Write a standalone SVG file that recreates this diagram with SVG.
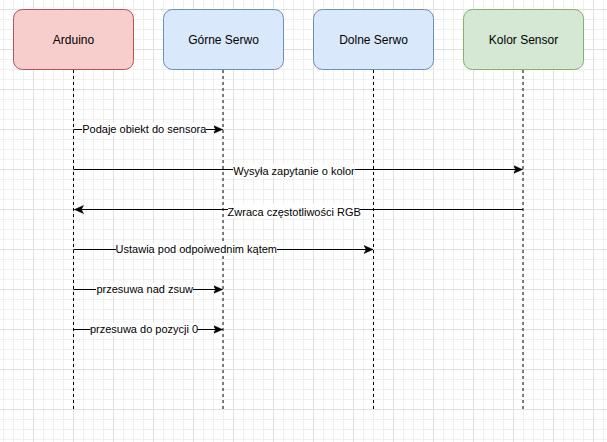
<svg xmlns="http://www.w3.org/2000/svg" width="607" height="442" viewBox="0 0 607 442">
<style>
.box{stroke-width:1}
.title{font-family:"Liberation Sans",Arial,sans-serif;font-size:12px;fill:#000;text-anchor:middle}
.lbl{font-family:"Liberation Sans",Arial,sans-serif;font-size:11px;fill:#000;text-anchor:middle}
.life{stroke:#000;stroke-width:1;stroke-dasharray:3 3;fill:none}
.msg{stroke:#000;stroke-width:1;fill:none}
.bg{fill:#fff}
</style>
<defs>
<pattern id="grid" patternUnits="userSpaceOnUse" x="33" y="9" width="40" height="40">
<path d="M10.5,0V40M20.5,0V40M30.5,0V40M0,10.5H40M0,20.5H40M0,30.5H40" stroke="#f0f0f0" stroke-width="1" fill="none"/>
<path d="M0.5,0V40M0,0.5H40" stroke="#e0e0e0" stroke-width="1" fill="none"/>
</pattern>
<marker id="arr" markerUnits="userSpaceOnUse" markerWidth="12" markerHeight="10" refX="9" refY="4.5" orient="auto">
<path d="M0,0.5 L9,4.5 L0,8.5 L2.2,4.5 Z" fill="#000" stroke="#000" stroke-width="0.5"/>
</marker>
</defs>
<rect width="607" height="442" fill="#fff"/>
<rect width="607" height="442" fill="url(#grid)"/>
<g id="node-arduino">
<rect class="box" x="13.5" y="9.5" width="120" height="60" rx="9" fill="#f8cecc" stroke="#b85450"/>
<text class="title" x="73.5" y="43.5">Arduino</text>
<line class="life" x1="73.5" y1="70" x2="73.5" y2="410"/>
</g>
<g id="node-gorne">
<rect class="box" x="163.5" y="9.5" width="120" height="60" rx="9" fill="#dae8fc" stroke="#6c8ebf"/>
<text class="title" x="223.5" y="43.5">Górne Serwo</text>
<line class="life" x1="223" y1="70" x2="223" y2="410"/>
</g>
<g id="node-dolne">
<rect class="box" x="313.5" y="9.5" width="120" height="60" rx="9" fill="#dae8fc" stroke="#6c8ebf"/>
<text class="title" x="373.5" y="43.5">Dolne Serwo</text>
<line class="life" x1="373.5" y1="70" x2="373.5" y2="410"/>
</g>
<g id="node-kolor">
<rect class="box" x="463.5" y="9.5" width="120" height="60" rx="9" fill="#d5e8d4" stroke="#82b366"/>
<text class="title" x="523.5" y="43.5">Kolor Sensor</text>
<line class="life" x1="523" y1="70" x2="523" y2="410"/>
</g>
<g id="connectors">
<line class="msg" x1="73.5" y1="129.5" x2="222.5" y2="129.5" marker-end="url(#arr)"/>
<rect class="bg" x="82" y="123" width="124" height="13"/>
<text class="lbl" x="144.3" y="133">Podaje obiekt do sensora</text>

<line class="msg" x1="73.5" y1="169.5" x2="522.5" y2="169.5" marker-end="url(#arr)"/>
<rect class="bg" x="233" y="164" width="122" height="13"/>
<text class="lbl" x="294" y="175">Wysyła zapytanie o kolor</text>

<line class="msg" x1="523" y1="209.5" x2="74.5" y2="209.5" marker-end="url(#arr)"/>
<rect class="bg" x="228" y="204" width="132" height="14"/>
<text class="lbl" x="294.2" y="215.5">Zwraca częstotliwości RGB</text>

<line class="msg" x1="73.5" y1="249.5" x2="373" y2="249.5" marker-end="url(#arr)"/>
<rect class="bg" x="116" y="243" width="161" height="13"/>
<text class="lbl" x="196.3" y="253">Ustawia pod odpoiwednim kątem</text>

<line class="msg" x1="73.5" y1="289.5" x2="222.5" y2="289.5" marker-end="url(#arr)"/>
<rect class="bg" x="96" y="283" width="97" height="13"/>
<text class="lbl" x="144.7" y="293">przesuwa nad zsuw</text>

<line class="msg" x1="73.5" y1="329.5" x2="222.5" y2="329.5" marker-end="url(#arr)"/>
<rect class="bg" x="90.5" y="323" width="107" height="13"/>
<text class="lbl" x="144" y="333">przesuwa do pozycji 0</text>
</g>
</svg>
